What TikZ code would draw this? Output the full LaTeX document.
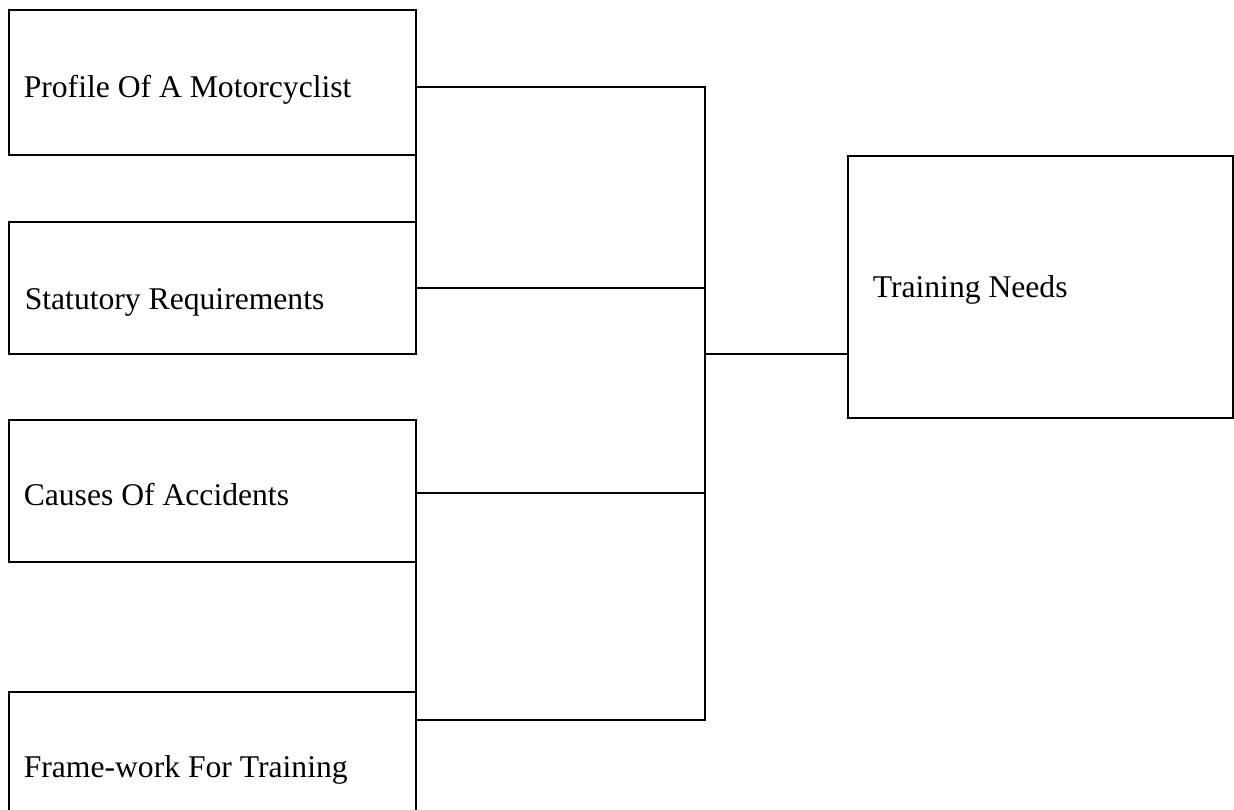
\documentclass[tikz,border=0pt]{standalone}
\usepackage{fontspec}
\setmainfont{Liberation Serif}
\usepackage{tikz}

\begin{document}
\begin{tikzpicture}[line width=.9pt,
    box/.style={rectangle, draw, inner sep=0pt, outer sep=0pt, minimum width=8.14cm},
    lbl/.style={anchor=base west, inner sep=0pt, font=\fontsize{18}{22}\selectfont}]
  \useasboundingbox (0cm, 0cm) rectangle (24.68cm, -16.18cm);
  \clip (0cm, 0cm) rectangle (24.68cm, -16.18cm);
  \node [box, minimum height=2.9cm] (p1) at (4.25cm, -1.65cm) {};
  \node [box, minimum height=2.64cm] (p2) at (4.25cm, -5.76cm) {};
  \node [box, minimum height=2.84cm] (p3) at (4.25cm, -9.82cm) {};
  \node [box, minimum height=3cm] (p4) at (4.25cm, -15.34cm) {};
  \node [box, minimum width=7.7cm, minimum height=5.24cm] (tn) at (20.81cm, -5.74cm) {};
  \node [lbl] (l1) at (0.46cm, -1.94cm) {Profile Of A Motorcyclist};
  \node [lbl] (l2) at (0.48cm, -6.18cm) {Statutory Requirements};
  \node [lbl] (l3) at (0.46cm, -10.1cm) {Causes Of Accidents};
  \node [lbl] (l4) at (0.46cm, -15.54cm) {Frame-work For Training};
  \node [lbl] (l5) at (17.44cm, -5.94cm) {Training Needs};
  \coordinate (j1) at (14.1cm, -1.74cm);
  \coordinate (j3) at (14.1cm, -9.86cm);
  \coordinate (j4) at (14.1cm, -14.4cm);
  \coordinate (jm) at (14.1cm, -7.08cm);
  \draw (p1.south east) -- (p2.north east);
  \draw (p3.south east) -- (p4.north east);
  \draw (p1.east |- j1) -- (j1) -- (j4) -- (p4.east |- j4);
  \draw (p2.east) -- (p2.east -| j1);
  \draw (p3.east |- j3) -- (j3);
  \draw (jm) -- (tn.west |- jm);
\end{tikzpicture}
\end{document}
